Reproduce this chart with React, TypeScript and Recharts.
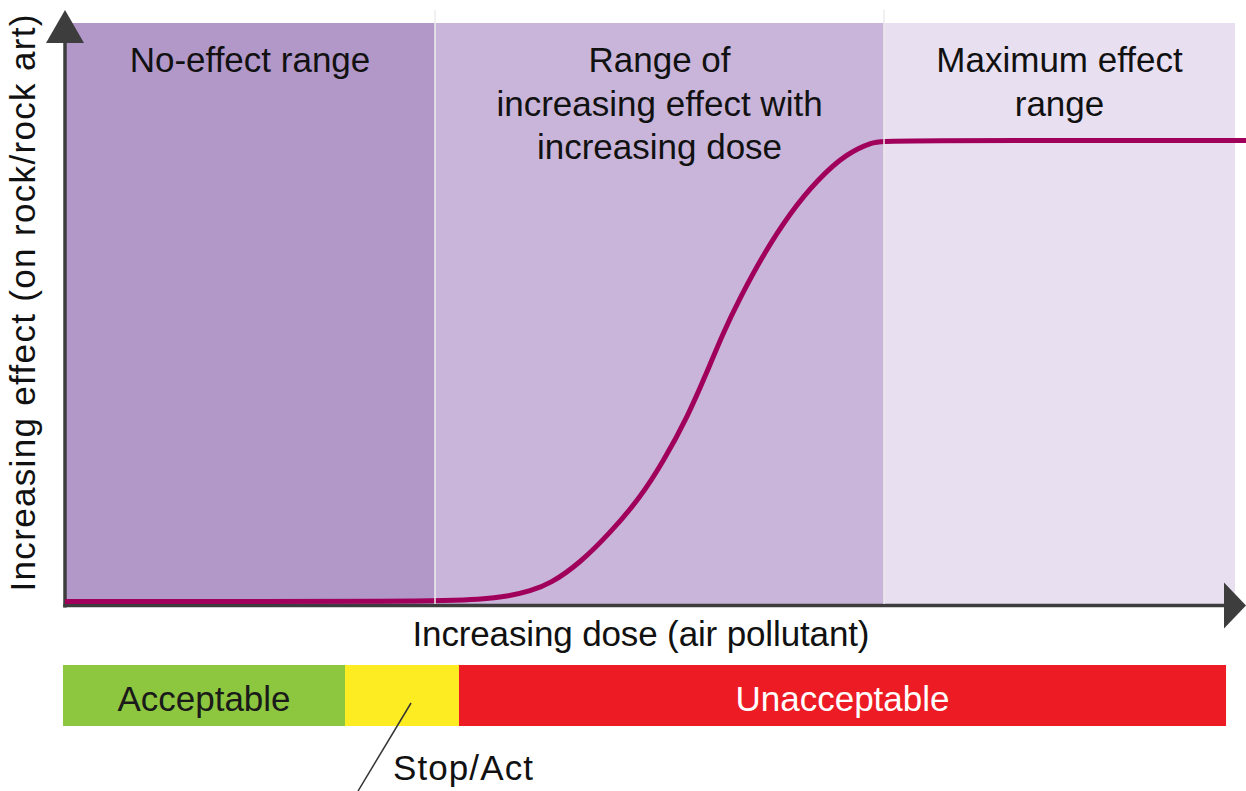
import React from 'react';
import {
  ComposedChart,
  Line,
  XAxis,
  YAxis,
  ReferenceArea,
  ReferenceLine,
  ReferenceDot,
} from 'recharts';

// dose-response curve (dose and effect in % of axis length)
const doseSteps = [0, 31.33, 35.14, 37.68, 39.37, 41.07, 43.61, 46.15, 48.69, 50.64, 52.75, 54.36, 55.72, 57.15, 59.1, 61.39, 63.68, 66.22, 68.42, 69.35, 100];
const effectLevels = [0.43, 0.43, 0.77, 1.38, 2.24, 3.44, 7.06, 12.22, 18.24, 24.44, 32.36, 39.93, 46.64, 52.67, 60.07, 67.3, 72.98, 77.62, 79.52, 79.78, 79.78];

// effect ranges shaded behind the curve
const rangeEdges = [0, 31.33, 69.35, 99.07];
const rangeTitles = [['No-effect range'], ['Range of', 'increasing effect with', 'increasing dose'], ['Maximum effect', 'range']];
const rangeColors = ['#b297c9', '#c9b5d9', '#e8e0f1'];

// management zones under the dose axis
const zoneEdges = [-0.17, 23.71, 33.36, 98.31];
const zoneLabels = ['Acceptable', '', 'Unacceptable'];
const zoneColors = ['#8dc63f', '#fcec21', '#ed1c24'];
const zoneTextColors = ['#1a1a1a', '#1a1a1a', '#ffffff'];

const data = doseSteps.map((d, i) => ({ dose: d, effect: effectLevels[i] }));

const FONT = '"Liberation Sans", Arial, sans-serif';
const AXIS = '#3d3d3d';

const titleLabel = (lines: string[]) => (props: any) => {
  const { x, y, width } = props.viewBox;
  const cx = x + width / 2;
  return (
    <text x={cx} y={y + 49} textAnchor="middle" fontFamily={FONT} fontSize={35} fill="#111">
      {lines.map((l, i) => (
        <tspan key={i} x={cx} dy={i === 0 ? 0 : 43.5}>
          {l}
        </tspan>
      ))}
    </text>
  );
};

const zoneLabel = (txt: string, color: string) => (props: any) => {
  const { x, y, width } = props.viewBox;
  return (
    <text x={x + width / 2} y={y + 46} textAnchor="middle" fontFamily={FONT} fontSize={35} fill={color}>
      {txt}
    </text>
  );
};

const ArrowUp = (p: any) => (
  <path d={`M${p.cx},${p.cy} L${p.cx - 19},${p.cy + 33} L${p.cx + 19},${p.cy + 33} Z`} fill={AXIS} />
);

const ArrowRight = (p: any) => (
  <path d={`M${p.cx},${p.cy} L${p.cx - 22},${p.cy - 23} L${p.cx - 22},${p.cy + 23} Z`} fill={AXIS} />
);

const TextMark = (txt: string, anchor: string, len?: number, rotate?: boolean) => (p: any) => (
  <text
    x={p.cx}
    y={p.cy}
    textAnchor={anchor}
    fontFamily={FONT}
    fontSize={35}
    fill="#111"
    textLength={len}
    lengthAdjust="spacing"
    transform={rotate ? `rotate(-90 ${p.cx} ${p.cy})` : undefined}
  >
    {txt}
  </text>
);

export default function App() {
  return (
    <div style={{ position: 'absolute', left: 0, top: 0, background: '#fff' }}>
      <ComposedChart width={1246} height={791} data={data} margin={{ top: 23, right: 0, left: 65, bottom: 187 }}>
        <XAxis dataKey="dose" type="number" domain={[0, 100]} allowDataOverflow hide />
        <YAxis type="number" domain={[0, 100]} allowDataOverflow hide />

        {rangeTitles.map((t, i) => (
          <ReferenceArea
            key={'r' + i}
            x1={rangeEdges[i]}
            x2={rangeEdges[i + 1]}
            y1={0}
            y2={100}
            fill={rangeColors[i]}
            fillOpacity={1}
            stroke="none"
            ifOverflow="visible"
            label={titleLabel(t)}
          />
        ))}

        {zoneLabels.map((t, i) => (
          <ReferenceArea
            key={'z' + i}
            x1={zoneEdges[i]}
            x2={zoneEdges[i + 1]}
            y1={-21}
            y2={-10.5}
            fill={zoneColors[i]}
            fillOpacity={1}
            stroke="none"
            ifOverflow="visible"
            label={zoneLabel(t, zoneTextColors[i])}
          />
        ))}

        <ReferenceLine segment={[{ x: 0, y: -0.6 }, { x: 0, y: 97 }]} stroke={AXIS} strokeWidth={3.5} ifOverflow="visible" />
        <ReferenceLine segment={[{ x: -0.15, y: -0.26 }, { x: 98.2, y: -0.26 }]} stroke={AXIS} strokeWidth={3.5} ifOverflow="visible" />

        <Line
          dataKey="effect"
          type="basis"
          stroke="#a0005b"
          strokeWidth={5}
          dot={false}
          activeDot={false}
          isAnimationActive={false}
        />

        {rangeEdges.slice(1, 3).map((x, i) => (
          <ReferenceLine
            key={'d' + i}
            segment={[{ x, y: 0 }, { x, y: 102.3 }]}
            stroke="#ececec"
            strokeWidth={1.5}
            ifOverflow="visible"
          />
        ))}

        <ReferenceLine segment={[{ x: 24.81, y: -32.19 }, { x: 29.3, y: -17.04 }]} stroke="#333" strokeWidth={1.5} ifOverflow="visible" />

        <ReferenceDot x={0} y={102.24} ifOverflow="visible" shape={ArrowUp} />
        <ReferenceDot x={100} y={-0.26} ifOverflow="visible" shape={ArrowRight} />

        <ReferenceDot x={48.77} y={-7.23} ifOverflow="visible" shape={TextMark('Increasing dose (air pollutant)', 'middle', 457)} />
        <ReferenceDot x={-2.54} y={51.8} ifOverflow="visible" shape={TextMark('Increasing effect (on rock/rock art)', 'middle', 577, true)} />
        <ReferenceDot x={27.77} y={-30.29} ifOverflow="visible" shape={TextMark('Stop/Act', 'start', 140)} />
      </ComposedChart>
    </div>
  );
}
